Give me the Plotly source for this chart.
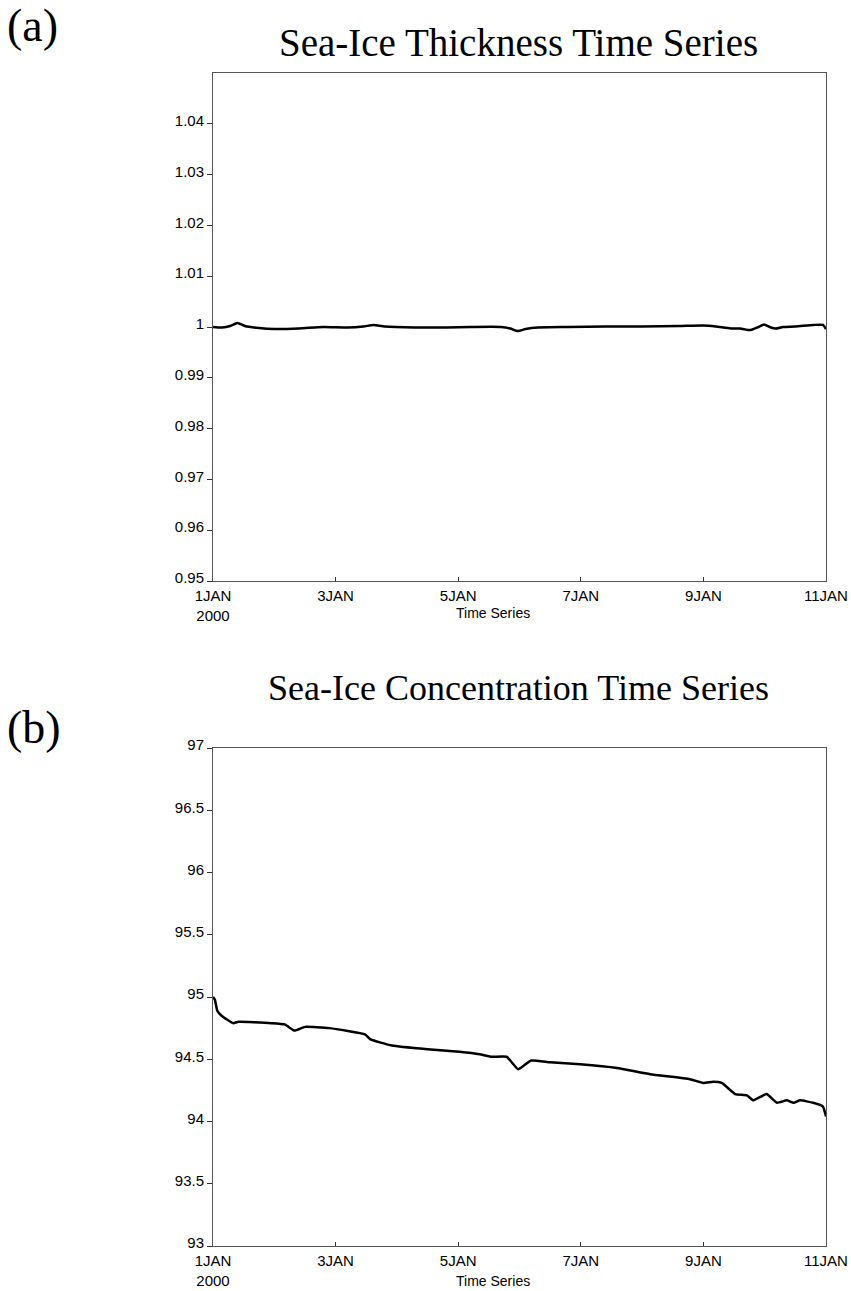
import pandas as pd
import plotly.graph_objects as go

# ---- data ----
start = pd.Timestamp("2000-01-01")

thk_days = [0.0, 0.15, 0.28, 0.40, 0.52, 0.75, 1.0, 1.4, 1.8, 2.2, 2.45, 2.62, 2.8, 3.3, 3.8,
            4.2, 4.7, 4.85, 4.97, 5.1, 5.3, 5.8, 6.4, 7.0, 7.6, 8.0, 8.2, 8.45, 8.6, 8.77,
            8.9, 8.99, 9.1, 9.18, 9.3, 9.5, 9.8, 9.95, 10.0]
thk_vals = [1.0000, 0.9999, 1.0002, 1.0008, 1.0002, 0.9998, 0.9996, 0.9997, 1.0000, 0.9999,
            1.0001, 1.0004, 1.0001, 0.9999, 0.9999, 1.0000, 1.0000, 0.9997, 0.9992, 0.9996,
            0.9999, 1.0000, 1.0001, 1.0001, 1.0002, 1.0003, 1.0001, 0.9997, 0.9997, 0.9994,
            1.0000, 1.0005, 0.9999, 0.9997, 1.0000, 1.0001, 1.0004, 1.0004, 0.9996]

conc_days = [0.0, 0.03, 0.07, 0.14, 0.33, 0.40, 0.95, 1.17, 1.33, 1.5, 1.9, 2.48, 2.57, 2.92,
             3.5, 4.02, 4.35, 4.53, 4.79, 4.98, 5.19, 5.5, 5.99, 6.59, 7.13, 7.78, 8.0, 8.16,
             8.3, 8.52, 8.71, 8.81, 9.03, 9.2, 9.36, 9.47, 9.58, 9.79, 9.95, 10.0]
conc_vals = [95.00, 94.98, 94.89, 94.85, 94.79, 94.80, 94.79, 94.78, 94.73, 94.76, 94.75,
             94.70, 94.66, 94.61, 94.58, 94.56, 94.54, 94.52, 94.52, 94.42, 94.49, 94.475,
             94.46, 94.43, 94.38, 94.34, 94.31, 94.32, 94.31, 94.22, 94.21, 94.17, 94.22,
             94.15, 94.17, 94.15, 94.17, 94.15, 94.12, 94.04]

xtick_days = [0, 2, 4, 6, 8, 10]
xtick_text = ["1JAN<br>2000", "3JAN", "5JAN", "7JAN", "9JAN", "11JAN"]

thk_ticks = [0.95, 0.96, 0.97, 0.98, 0.99, 1.0, 1.01, 1.02, 1.03, 1.04]
thk_tick_text = ["0.95", "0.96", "0.97", "0.98", "0.99", "1", "1.01", "1.02", "1.03", "1.04"]
conc_ticks = [93, 93.5, 94, 94.5, 95, 95.5, 96, 96.5, 97]
conc_tick_text = ["93", "93.5", "94", "94.5", "95", "95.5", "96", "96.5", "97"]

titles = ["Sea-Ice Thickness Time Series", "Sea-Ice Concentration Time Series"]
panel_labels = ["(a)", "(b)"]
xlabel = "Time Series"

# ---- figure ----
W, H = 851, 1291
to_dt = lambda ds: [start + pd.Timedelta(days=d) for d in ds]

fig = go.Figure()
fig.add_trace(go.Scatter(x=to_dt(thk_days), y=thk_vals, mode="lines",
                         line=dict(color="black", width=2.5, shape="spline", smoothing=0.6),
                         xaxis="x", yaxis="y", showlegend=False))
fig.add_trace(go.Scatter(x=to_dt(conc_days), y=conc_vals, mode="lines",
                         line=dict(color="black", width=2.5, shape="spline", smoothing=0.4),
                         xaxis="x2", yaxis="y2", showlegend=False))

tickfont = dict(family="Liberation Sans Narrow, Liberation Sans, Arial", size=15, color="black")
x_left, x_right = 213 / W, 826 / W

def px_y(top, bottom):
    return [(H - bottom) / H, (H - top) / H]

common_x = dict(
    domain=[x_left, x_right], range=[start, start + pd.Timedelta(days=10)],
    tickvals=to_dt(xtick_days), ticktext=xtick_text, ticks="inside", ticklen=4,
    tickcolor="#333", showline=True, linecolor="#555", linewidth=1, mirror=True,
    showgrid=False, zeroline=False, tickfont=tickfont, automargin=False,
    ticklabelstandoff=1,
)
common_y = dict(
    ticks="outside", ticklen=5, tickcolor="#333", showline=True, linecolor="#555",
    linewidth=1, mirror=True, showgrid=False, zeroline=False, tickfont=tickfont,
    automargin=False, ticklabelshift=-3,
)

fig.update_layout(
    width=W, height=H, margin=dict(l=0, r=0, t=0, b=0),
    paper_bgcolor="white", plot_bgcolor="white",
    xaxis=dict(anchor="y", **common_x),
    yaxis=dict(anchor="x", domain=px_y(73, 581), range=[0.95, 1.05],
               tickvals=thk_ticks, ticktext=thk_tick_text, **common_y),
    xaxis2=dict(anchor="y2", **common_x),
    yaxis2=dict(anchor="x2", domain=px_y(748, 1246), range=[93, 97],
                tickvals=conc_ticks, ticktext=conc_tick_text, **common_y),
)

label_font = dict(family="Liberation Serif, Times New Roman, serif", size=46, color="black")
xl_font = dict(family="Liberation Sans Narrow, Liberation Sans, Arial", size=14, color="black")

for title, tsize, lab, ty, ly, xly in [(titles[0], 39, panel_labels[0], 42, 25, 613),
                                       (titles[1], 36, panel_labels[1], 688, 727, 1281)]:
    fig.add_annotation(text=title, x=518 / W, y=1 - ty / H, xref="paper", yref="paper",
                       showarrow=False, xanchor="center", yanchor="middle",
                       font=dict(family="Liberation Serif, Times New Roman, serif",
                                 size=tsize, color="black"))
    fig.add_annotation(text=lab, x=5 / W, y=1 - ly / H, xref="paper", yref="paper",
                       showarrow=False, font=label_font, xanchor="left", yanchor="middle")
    fig.add_annotation(text=xlabel, x=493 / W, y=1 - xly / H, xref="paper", yref="paper",
                       showarrow=False, font=xl_font, xanchor="center", yanchor="middle")

fig.write_html("out.html")
